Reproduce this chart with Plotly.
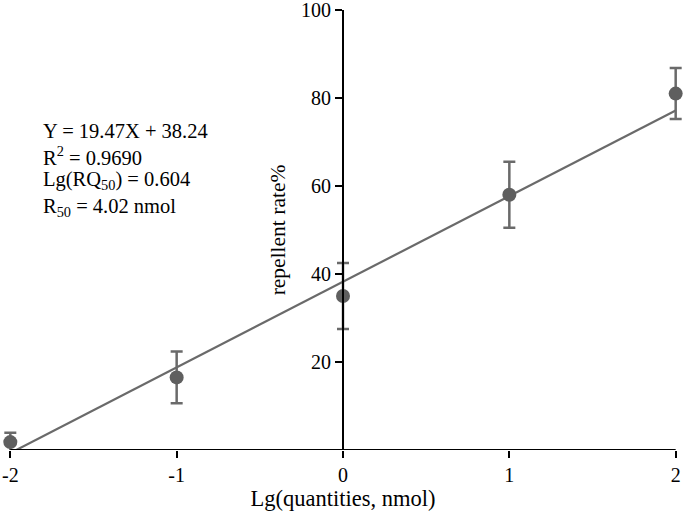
import plotly.graph_objects as go

# Data
lg_quantity = [-2, -1, 0, 1, 2]
repellent_rate = [1.8, 16.5, 35.0, 58.0, 81.0]
rate_error = [2.1, 5.9, 7.5, 7.5, 5.8]

fit_slope = 19.47
fit_intercept = 38.24
fit_x = [-2, 2]

y_tick_vals = [20, 40, 60, 80, 100]
x_tick_vals = [-2, -1, 0, 1, 2]

stats_lines = [
    "Y = 19.47X + 38.24",
    "R<sup>2</sup> = 0.9690",
    "Lg(RQ<sub>50</sub>) = 0.604",
    "R<sub>50</sub> = 4.02 nmol",
]
stats_y = [72.5, 66.9, 61.2, 55.1]

FONT = "Liberation Serif"
GREY = "#5f5f5f"
PAD = 0.05  # small x padding so the end error-bar caps are not clipped

fig = go.Figure()

fig.add_trace(go.Scatter(
    x=fit_x,
    y=[fit_slope * v + fit_intercept for v in fit_x],
    mode="lines",
    line=dict(color="#6a6a6a", width=2.2),
    showlegend=False,
    hoverinfo="skip",
))

fig.add_trace(go.Scatter(
    x=lg_quantity,
    y=repellent_rate,
    mode="markers",
    marker=dict(color=GREY, size=14),
    error_y=dict(type="data", array=rate_error, visible=True,
                 color="#6a6a6a", thickness=2.5, width=6),
    cliponaxis=False,
    showlegend=False,
))

for txt, yy in zip(stats_lines, stats_y):
    fig.add_annotation(
        x=-1.814, xref="x", y=yy, yref="y",
        text=txt, showarrow=False, xanchor="left", yanchor="middle",
        font=dict(family=FONT, size=20.5, color="black"),
    )

# x axis line spanning only the data range -2..2
fig.add_shape(type="line", xref="x", yref="y",
              x0=x_tick_vals[0], x1=x_tick_vals[-1], y0=0, y1=0,
              line=dict(color="black", width=2), layer="above")

fig.update_layout(
    width=685, height=521,
    margin=dict(l=1.675, r=0.675, t=10, b=71, autoexpand=False),
    plot_bgcolor="white", paper_bgcolor="white",
    font=dict(family=FONT, size=20, color="black"),
    xaxis=dict(
        range=[x_tick_vals[0] - PAD, x_tick_vals[-1] + PAD], domain=[0, 1],
        automargin=False,
        tickvals=x_tick_vals, ticktext=[str(v) for v in x_tick_vals],
        ticklabeloverflow="allow",
        showgrid=False, zeroline=False, showline=False,
        ticks="outside", ticklen=7, tickwidth=2, tickcolor="black",
        title=dict(text="Lg(quantities, nmol)", standoff=0,
                   font=dict(family=FONT, size=22.5)),
        tickfont=dict(family=FONT, size=20),
    ),
    yaxis=dict(
        range=[0, 100], anchor="free", position=0.5, automargin=False,
        tickvals=y_tick_vals, ticktext=[str(v) for v in y_tick_vals],
        ticklabeloverflow="allow",
        showgrid=False, zeroline=False,
        showline=True, linecolor="black", linewidth=2,
        ticks="outside", ticklen=7, tickwidth=2, tickcolor="black",
        title=dict(text="repellent rate%", standoff=8,
                   font=dict(family=FONT, size=21.5)),
        tickfont=dict(family=FONT, size=20),
    ),
)

fig.write_html("out.html", config={"displayModeBar": False},
               post_script="document.body.style.margin='0';")
